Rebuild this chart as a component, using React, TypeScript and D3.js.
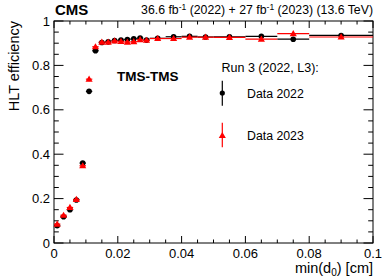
import React from "react";
import * as d3 from "d3";

// bin edges of min(d0) in cm
const binLo = [0, 0.002, 0.004, 0.006, 0.008, 0.01, 0.012, 0.014, 0.016, 0.018, 0.02, 0.022, 0.024, 0.026, 0.028, 0.03, 0.035, 0.04, 0.045, 0.05, 0.06, 0.07, 0.08];
const binHi = [0.002, 0.004, 0.006, 0.008, 0.01, 0.012, 0.014, 0.016, 0.018, 0.02, 0.022, 0.024, 0.026, 0.028, 0.03, 0.035, 0.04, 0.045, 0.05, 0.06, 0.07, 0.08, 0.1];

const eff2022 = [0.078, 0.118, 0.150, 0.194, 0.360, 0.683, 0.866, 0.903, 0.906, 0.912, 0.914, 0.917, 0.920, 0.923, 0.914, 0.922, 0.929, 0.931, 0.928, 0.929, 0.931, 0.918, 0.935];
const err2022 = [0.006, 0.006, 0.006, 0.006, 0.008, 0.008, 0.005, 0.004, 0.004, 0.004, 0.004, 0.004, 0.004, 0.004, 0.004, 0.003, 0.003, 0.003, 0.003, 0.003, 0.004, 0.005, 0.004];
const eff2023 = [0.085, 0.125, 0.160, 0.196, 0.348, 0.738, 0.884, 0.905, 0.905, 0.910, 0.908, 0.905, 0.907, 0.916, 0.913, 0.921, 0.921, 0.927, 0.927, 0.926, 0.918, 0.943, 0.928];
const err2023 = [0.007, 0.007, 0.007, 0.007, 0.009, 0.009, 0.006, 0.005, 0.005, 0.005, 0.005, 0.005, 0.005, 0.005, 0.005, 0.004, 0.004, 0.004, 0.004, 0.004, 0.005, 0.006, 0.005];

const xTicks = [0, 0.02, 0.04, 0.06, 0.08, 0.1];
const xTickLabels = ["0", "0.02", "0.04", "0.06", "0.08", "0.1"];
const yTicks = [0, 0.2, 0.4, 0.6, 0.8, 1];
const yTickLabels = ["0", "0.2", "0.4", "0.6", "0.8", "1"];

const W = 389, H = 279;
const L = 54, R = 373, T = 21, B = 243;
const font = "'Liberation Sans', Arial, Helvetica, sans-serif";
const tri = d3.symbol(d3.symbolTriangle, 22)()!;

function Series({ vals, errs, color, marker, x, y }: any) {
  return (
    <g>
      {vals.map((v: number, i: number) => {
        const cx = x((binLo[i] + binHi[i]) / 2);
        const cy = y(v);
        return (
          <g key={i}>
            <line x1={x(binLo[i])} x2={x(binHi[i])} y1={cy} y2={cy} stroke={color} strokeWidth={1.2} />
            <line x1={cx} x2={cx} y1={y(v - errs[i])} y2={y(v + errs[i])} stroke={color} strokeWidth={1.2} />
            {marker === "circle" ? (
              <circle cx={cx} cy={cy} r={2.8} fill={color} />
            ) : (
              <path d={tri} transform={`translate(${cx},${cy + 0.5})`} fill={color} />
            )}
          </g>
        );
      })}
    </g>
  );
}

export default function App() {
  const x = d3.scaleLinear().domain([0, 0.1]).range([L, R]);
  const y = d3.scaleLinear().domain([0, 1]).range([B, T]);
  const xMinor = d3.range(0, 0.1001, 0.005);
  const yMinor = d3.range(0, 1.0001, 0.05);

  return (
    <svg width={W} height={H} style={{ position: "absolute", left: 0, top: 0, background: "#fff" }} fontFamily={font}>
      <rect x={0} y={0} width={W} height={H} fill="#fff" />
      {/* ticks */}
      <g stroke="#000" strokeWidth={1}>
        {xMinor.map((t, i) => {
          const major = i % 4 === 0;
          const len = major ? 7 : 3.5;
          return (
            <g key={"x" + i}>
              <line x1={x(t)} x2={x(t)} y1={B} y2={B - len} />
              <line x1={x(t)} x2={x(t)} y1={T} y2={T + len} />
            </g>
          );
        })}
        {yMinor.map((t, i) => {
          const major = i % 4 === 0;
          const len = major ? 9.5 : 4.8;
          return (
            <g key={"y" + i}>
              <line x1={L} x2={L + len} y1={y(t)} y2={y(t)} />
              <line x1={R} x2={R - len} y1={y(t)} y2={y(t)} />
            </g>
          );
        })}
      </g>
      <rect x={L} y={T} width={R - L} height={B - T} fill="none" stroke="#000" strokeWidth={1} />

      <g fontSize={13} fill="#000">
        {xTicks.map((t, i) => (
          <text key={i} x={x(t)} y={B + 15} textAnchor="middle">{xTickLabels[i]}</text>
        ))}
        {yTicks.map((t, i) => (
          <text key={i} x={L - 4} y={y(t) + 4.5} textAnchor="end">{yTickLabels[i]}</text>
        ))}
      </g>

      <text x={R} y={273} textAnchor="end" fontSize={14.5}>
        min(d<tspan fontSize={10} dy={3}>0</tspan><tspan dy={-3}>) [cm]</tspan>
      </text>
      <text transform={`translate(19,${T}) rotate(-90)`} textAnchor="end" fontSize={14.5}>HLT efficiency</text>

      <text x={L + 1} y={15} fontSize={15} fontWeight="bold">CMS</text>
      <text x={R} y={14} textAnchor="end" fontSize={12.3}>
        36.6 fb<tspan fontSize={8.5} dy={-4}>-1</tspan><tspan dy={4}> (2022) + 27 fb</tspan><tspan fontSize={8.5} dy={-4}>-1</tspan><tspan dy={4}> (2023) (13.6 TeV)</tspan>
      </text>

      <text x={117} y={81} fontSize={13.5} fontWeight="bold">TMS-TMS</text>
      <text x={221.5} y={72} fontSize={12.5}>Run 3 (2022, L3):</text>

      <line x1={222.3} x2={222.3} y1={80.7} y2={105.7} stroke="#000" strokeWidth={1.2} />
      <circle cx={222.3} cy={93} r={2.6} fill="#000" />
      <text x={247} y={97.5} fontSize={12.3}>Data 2022</text>

      <line x1={222.3} x2={222.3} y1={122.7} y2={147.3} stroke="#f00" strokeWidth={1.2} />
      <path d={tri} transform={`translate(222.3,136)`} fill="#f00" />
      <text x={247} y={140} fontSize={12.3}>Data 2023</text>

      <Series vals={eff2022} errs={err2022} color="#000" marker="circle" x={x} y={y} />
      <Series vals={eff2023} errs={err2023} color="#f00" marker="triangle" x={x} y={y} />
    </svg>
  );
}
